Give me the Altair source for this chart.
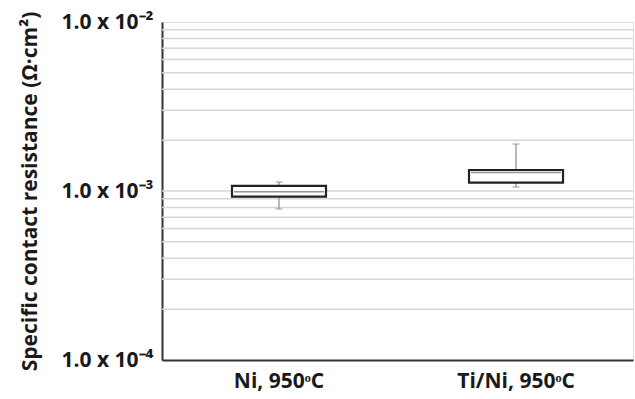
import altair as alt
import pandas as pd

groups = ["Ni, 950ᵒC", "Ti/Ni, 950ᵒC"]
whisker_low = [7.82e-4, 1.057e-3]
q1 = [9.25e-4, 1.120e-3]
median = [9.90e-4, 1.286e-3]
q3 = [1.071e-3, 1.331e-3]
whisker_high = [1.130e-3, 1.897e-3]

grid_values = [m * 10.0 ** e for e in (-4, -3) for m in range(2, 10)] + [1e-3]
tick_values = [1e-4, 1e-3, 1e-2]

df = pd.DataFrame({
    "group": groups, "lo": whisker_low, "q1": q1, "med": median,
    "q3": q3, "hi": whisker_high,
})
grid_df = pd.DataFrame({"v": grid_values})

FONT = "Open Sans"
FS = 21

yscale = alt.Scale(type="log", domain=[1e-4, 1e-2], nice=False)
xscale = alt.Scale(domain=groups, paddingInner=0.595, paddingOuter=0.291, align=0.5)

label_expr = ("datum.value >= 0.005 ? '1.0 x 10⁻²' : "
              "(datum.value >= 0.0005 ? '1.0 x 10⁻³' : '1.0 x 10⁻⁴')")

x_enc = alt.X("group:N", scale=xscale, sort=groups,
              axis=alt.Axis(title=None, labelAngle=0, ticks=False, labelPadding=10,
                            labelFontSize=FS, labelFont=FONT, labelFontWeight=700,
                            labelColor="#1a1a1a", domainColor="#333333", domainWidth=2))

grid = alt.Chart(grid_df).mark_rule(color="#d6d6d6", strokeWidth=1.5).encode(
    y=alt.Y("v:Q", scale=yscale,
            axis=alt.Axis(values=tick_values, labelExpr=label_expr, ticks=False,
                          grid=False, labelPadding=9, labelFontSize=FS,
                          labelFont=FONT, labelFontWeight=700, labelColor="#1a1a1a",
                          title="Specific contact resistance (Ω·cm²)",
                          titleFontSize=FS, titleFont=FONT, titleFontWeight=700,
                          titleColor="#1a1a1a", titlePadding=20,
                          domainColor="#333333", domainWidth=2)),
)

base = alt.Chart(df)

whisk = base.mark_rule(color="#8a8a8a", strokeWidth=1.2).encode(
    x=x_enc, y=alt.Y("lo:Q", scale=yscale), y2="hi:Q")

box = base.mark_bar(fill="white", stroke="#222222", strokeWidth=2.2, size=94).encode(
    x=x_enc, y=alt.Y("q1:Q", scale=yscale), y2="q3:Q")

med = base.mark_tick(color="#666666", size=90, thickness=1.6, orient="horizontal").encode(
    x=x_enc, y=alt.Y("med:Q", scale=yscale))

cap_hi = base.mark_tick(color="#8a8a8a", size=7, thickness=1.2, orient="horizontal").encode(
    x=x_enc, y=alt.Y("hi:Q", scale=yscale))
cap_lo = base.mark_tick(color="#8a8a8a", size=7, thickness=1.2, orient="horizontal").encode(
    x=x_enc, y=alt.Y("lo:Q", scale=yscale))

chart = alt.layer(grid, whisk, box, med, cap_hi, cap_lo).properties(
    width=471, height=338,
    autosize=alt.AutoSizeParams(type="none"),
    padding={"left": 162, "top": 22, "right": 2, "bottom": 39},
).configure_view(stroke="#333333", strokeWidth=2).configure(background="white")

chart.save("out.html", embed_options={"renderer": "svg", "actions": False})
